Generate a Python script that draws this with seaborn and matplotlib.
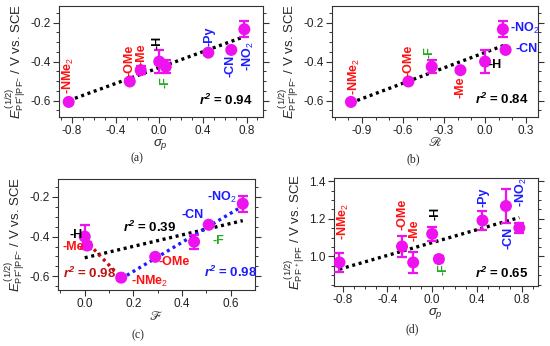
import numpy as np
import pandas as pd
import matplotlib
matplotlib.use("Agg")
import matplotlib.pyplot as plt
import seaborn as sns
from matplotlib.ticker import MultipleLocator

# ---------------- data ----------------
subs = ["-NMe$_2$", "-OMe", "-Me", "-H", "-F", "-Py", "-CN", "-NO$_2$"]
sigma_p = [-0.83, -0.27, -0.17, 0.00, 0.06, 0.45, 0.66, 0.78]
E_red = [-0.607, -0.502, -0.444, -0.400, -0.426, -0.354, -0.340, -0.234]
E_red_err = [0.010, 0.010, 0.020, 0.060, 0.035, 0.010, 0.010, 0.040]

subs_b = ["-NMe$_2$", "-OMe", "-F", "-Me", "-H", "-CN", "-NO$_2$"]
R_b = [-0.98, -0.56, -0.39, -0.18, 0.00, 0.15, 0.13]
E_b = [-0.607, -0.502, -0.426, -0.444, -0.400, -0.340, -0.234]
E_b_err = [0.010, 0.010, 0.035, 0.010, 0.060, 0.010, 0.040]

subs_c = ["-H", "-Me", "-NMe$_2$", "-OMe", "-F", "-CN", "-NO$_2$"]
F_c = [0.00, 0.01, 0.15, 0.29, 0.45, 0.51, 0.65]
E_c = [-0.400, -0.445, -0.607, -0.502, -0.426, -0.340, -0.234]
E_c_err = [0.060, 0.020, 0.010, 0.010, 0.035, 0.010, 0.040]
red_group = ["-H", "-Me", "-NMe$_2$"]
blue_group = ["-NMe$_2$", "-OMe", "-F", "-CN", "-NO$_2$"]

E_ox = [0.968, 1.053, 0.968, 1.120, 0.986, 1.191, 1.268, 1.152]
E_ox_err = [0.051, 0.058, 0.054, 0.036, 0.018, 0.050, 0.092, 0.027]

r2_texts = ["0.94", "0.84", "0.39", "0.98", "0.98", "0.65"]

# ---------------- style ----------------
sns.set_theme(style="ticks")
plt.rcParams.update({
    "font.family": ["Liberation Sans", "DejaVu Sans"],
    "axes.unicode_minus": False,
    "mathtext.fontset": "custom",
    "mathtext.rm": "Liberation Sans",
    "mathtext.it": "Liberation Sans:italic",
    "mathtext.bf": "Liberation Sans:italic:bold",
    "mathtext.sf": "Liberation Sans",
    "axes.linewidth": 0.8,
    "axes.edgecolor": "#333333",
})

MAG = "#ee12ee"
RED = "#ff1010"
BLUE = "#1c1cff"
GREEN = "#22aa22"
DRED = "#c01010"

fig = plt.figure(figsize=(5.5, 3.46), dpi=100)
axA = fig.add_axes([0.107, 0.662, 0.371, 0.321])
axB = fig.add_axes([0.604, 0.662, 0.3745, 0.321])
axC = fig.add_axes([0.105, 0.162, 0.358, 0.321])
axD = fig.add_axes([0.607, 0.173, 0.371, 0.312])

ylab_red = r"$E^{\,(1/2)}_{\mathrm{PF}^{*}|\mathrm{PF}^{-}}$ / V vs. SCE"
ylab_ox = r"$E^{\,(1/2)}_{\mathrm{PF}^{\bullet+}|\mathrm{PF}}$ / V vs. SCE"

DOT = (0, (0.9, 1.1))


def style_axis(ax, xmaj, xmin, ymaj, ymin, xlim, ylim):
    ax.set_xlim(*xlim)
    ax.set_ylim(*ylim)
    ax.xaxis.set_major_locator(MultipleLocator(xmaj))
    ax.xaxis.set_minor_locator(MultipleLocator(xmin))
    ax.yaxis.set_major_locator(MultipleLocator(ymaj))
    ax.yaxis.set_minor_locator(MultipleLocator(ymin))
    ax.tick_params(which="both", direction="out", left=True, right=True,
                   top=False, bottom=True, labelsize=8.5, colors="#333333",
                   labelcolor="#222222", pad=2)
    ax.tick_params(which="major", length=4, width=0.8)
    ax.tick_params(which="minor", length=2.2, width=0.7)
    for s in ax.spines.values():
        s.set_visible(True)


def points(ax, x, y, err):
    ax.errorbar(x, y, yerr=err, fmt="none", ecolor=MAG, elinewidth=1.6,
                capsize=3.4, capthick=1.6, zorder=3)
    sns.scatterplot(x=x, y=y, ax=ax, color=MAG, s=75, edgecolor="none",
                    zorder=4, legend=False)


def fit(ax, x, y, color):
    sns.regplot(x=np.array(x), y=np.array(y), ax=ax, scatter=False, ci=None,
                truncate=True,
                line_kws=dict(color=color, lw=2.4, linestyle=DOT, zorder=2))


def lab(ax, x, y, s, color, rot=0, ha="center", va="center"):
    ax.text(x, y, s, color=color, fontsize=9, fontweight="bold",
            rotation=rot, ha=ha, va=va, zorder=5)


def r2(ax, x, y, s, color="black", ha="right"):
    ax.text(x, y, r"$\mathbf{r}^{\mathbf{2}}$" + " = " + s, color=color,
            fontsize=9.5, fontweight="bold", ha=ha, va="center", zorder=5)


# ---------------- (a) ----------------
fit(axA, sigma_p, E_red, "black")
points(axA, sigma_p, E_red, E_red_err)
style_axis(axA, 0.4, 0.1, 0.2, 0.05, (-0.92, 0.95), (-0.684, -0.114))
axA.set_xlabel(r"$\sigma_p$", fontsize=9.5, labelpad=0)
axA.set_ylabel(ylab_red, fontsize=9.5, labelpad=1)
lab(axA, -0.83, -0.565, subs[0], RED, 90, va="bottom")
lab(axA, -0.275, -0.475, subs[1], RED, 90, va="bottom")
lab(axA, -0.165, -0.415, subs[2], RED, 90, va="bottom")
lab(axA, -0.02, -0.335, subs[3], "black", 90, va="bottom")
lab(axA, 0.055, -0.475, subs[4], GREEN, 90, va="top")
lab(axA, 0.46, -0.322, subs[5], BLUE, 90, va="bottom")
lab(axA, 0.653, -0.366, subs[6], BLUE, 90, va="top")
lab(axA, 0.82, -0.297, subs[7], BLUE, 90, va="top")
r2(axA, 0.86, -0.597, r2_texts[0])

# ---------------- (b) ----------------
fit(axB, R_b, E_b, "black")
points(axB, R_b, E_b, E_b_err)
style_axis(axB, 0.3, 0.1, 0.2, 0.05, (-1.117, 0.388), (-0.684, -0.114))
axB.set_xlabel(r"$\mathscr{R}$", fontsize=9.5, labelpad=0, math_fontfamily="stix")
axB.set_ylabel(ylab_red, fontsize=9.5, labelpad=1)
lab(axB, -0.956, -0.57, subs_b[0], RED, 90, va="bottom")
lab(axB, -0.56, -0.476, subs_b[1], RED, 90, va="bottom")
lab(axB, -0.407, -0.38, subs_b[2], GREEN, 90, va="bottom")
lab(axB, -0.18, -0.476, subs_b[3], RED, 90, va="top")
lab(axB, 0.022, -0.417, subs_b[4], "black", ha="left")
lab(axB, 0.22, -0.337, subs_b[5], BLUE, ha="left")
lab(axB, 0.183, -0.23, subs_b[6], BLUE, ha="left")
r2(axB, 0.315, -0.595, r2_texts[1])

# ---------------- (c) ----------------
dfc = pd.DataFrame({"sub": subs_c, "F": F_c, "E": E_c})
fit(axC, F_c, E_c, "black")
dr = dfc[dfc["sub"].isin(red_group)]
db = dfc[dfc["sub"].isin(blue_group)]
fit(axC, dr["F"], dr["E"], DRED)
fit(axC, db["F"], db["E"], BLUE)
points(axC, F_c, E_c, E_c_err)
style_axis(axC, 0.2, 0.1, 0.2, 0.05, (-0.111, 0.699), (-0.669, -0.109))
axC.set_xlabel(r"$\mathscr{F}$", fontsize=9.5, labelpad=0, math_fontfamily="stix")
axC.set_ylabel(ylab_red, fontsize=9.5, labelpad=1)
lab(axC, -0.01, -0.39, subs_c[0], "black", ha="right")
lab(axC, -0.005, -0.452, subs_c[1], RED, ha="right")
lab(axC, 0.19, -0.625, subs_c[2], RED, ha="left")
lab(axC, 0.305, -0.53, subs_c[3], RED, ha="left")
lab(axC, 0.525, -0.42, subs_c[4], GREEN, ha="left")
lab(axC, 0.489, -0.289, subs_c[5], BLUE, ha="right")
lab(axC, 0.623, -0.205, subs_c[6], BLUE, ha="right")
r2(axC, 0.158, -0.356, r2_texts[2], "black", ha="left")
r2(axC, -0.089, -0.587, r2_texts[3], DRED, ha="left")
r2(axC, 0.489, -0.583, r2_texts[4], BLUE, ha="left")

# ---------------- (d) ----------------
fit(axD, sigma_p, E_ox, "black")
points(axD, sigma_p, E_ox, E_ox_err)
style_axis(axD, 0.4, 0.1, 0.2, 0.05, (-0.88, 0.946), (0.842, 1.416))
axD.set_xlabel(r"$\sigma_p$", fontsize=9.5, labelpad=0)
axD.set_ylabel(ylab_ox, fontsize=9.5, labelpad=1)
lab(axD, -0.79, 1.088, subs[0], RED, 90, va="bottom")
lab(axD, -0.262, 1.142, subs[1], RED, 90, va="bottom")
lab(axD, -0.157, 1.08, subs[2], RED, 90, va="bottom")
lab(axD, 0.031, 1.195, subs[3], "black", 90, va="bottom")
lab(axD, 0.097, 0.965, subs[4], GREEN, 90, va="top")
lab(axD, 0.456, 1.265, subs[5], BLUE, 90, va="bottom")
lab(axD, 0.68, 1.16, subs[6], BLUE, 90, va="top")
lab(axD, 0.80, 1.262, subs[7], BLUE, 90, va="bottom")
r2(axD, 0.86, 0.91, r2_texts[5])

# ---------------- captions ----------------
for x, y, s in [(0.249, 0.543, "(a)"), (0.751, 0.540, "(b)"),
                (0.251, 0.03, "(c)"), (0.749, 0.047, "(d)")]:
    fig.text(x, y, s, ha="center", va="center", fontsize=8.5,
             family="Liberation Serif")

fig.savefig("out.png", dpi=100)
